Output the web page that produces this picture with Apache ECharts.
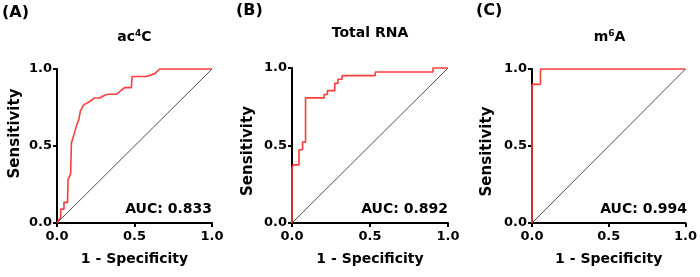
<!DOCTYPE html>
<html>
<head>
<meta charset="utf-8">
<script src="https://cdn.jsdelivr.net/npm/echarts@6/dist/echarts.min.js"></script>
<style>
  html, body { margin: 0; padding: 0; background: #fff; }
  #chart { width: 700px; height: 277px; }
</style>
</head>
<body>
<div id="chart"></div>
<script>
// ROC 曲线数据 [1 - Specificity, Sensitivity]
const rocAc4C = [
  [0, 0], [0.024, 0.037], [0.024, 0.09], [0.045, 0.09], [0.045, 0.134], [0.068, 0.134],
  [0.071, 0.28], [0.088, 0.32], [0.093, 0.52], [0.114, 0.59], [0.129, 0.642], [0.14, 0.668],
  [0.151, 0.728], [0.172, 0.767], [0.2, 0.782], [0.222, 0.797], [0.243, 0.812], [0.275, 0.812],
  [0.308, 0.83], [0.329, 0.836], [0.383, 0.836], [0.415, 0.862], [0.437, 0.879], [0.48, 0.879],
  [0.484, 0.951], [0.577, 0.951], [0.6, 0.96], [0.63, 0.97], [0.663, 1], [1, 1]
]
const rocTotalRNA = [
  [0, 0], [0, 0.355], [0.008, 0.355], [0.008, 0.375], [0.045, 0.375], [0.045, 0.473],
  [0.068, 0.473], [0.068, 0.522], [0.087, 0.522], [0.087, 0.807], [0.206, 0.807], [0.206, 0.829],
  [0.227, 0.829], [0.227, 0.854], [0.274, 0.854], [0.274, 0.901], [0.295, 0.901], [0.295, 0.927],
  [0.321, 0.927], [0.321, 0.951], [0.534, 0.951], [0.534, 0.974], [0.904, 0.974], [0.904, 1], [1, 1]
]
const rocM6A = [[0, 0], [0, 0.9], [0.055, 0.9], [0.055, 1], [1, 1]]
const diagonal = [[0, 0], [1, 1]]

const panelLabels = ['(A)', '(B)', '(C)']
const panelTitles = ['{t|ac}{s|4}{t|C}', '{t|Total RNA}', '{t|m}{s|6}{t|A}']
const aucLabels = ['AUC: 0.833', 'AUC: 0.892', 'AUC: 0.994']
const xName = '1 - Specificity'
const yName = 'Sensitivity'
const rocList = [rocAc4C, rocTotalRNA, rocM6A]

const FONT = 'DejaVu Sans'

// 每个面板的位置
const grids = [
  { left: 57, top: 69, width: 155, height: 154 },
  { left: 292, top: 68, width: 156, height: 155 },
  { left: 532, top: 69, width: 155, height: 154 }
]
const labelPos = [[2, 14], [236, 12], [476, 12]]
const titleY = [37, 33, 37]
const yNamePad = [[0, 0, 0, 25], [0, 11, 0, 0], [0, 11, 0, 0]]
const yNameGap = [34, 36, 37]

const myChart = echarts.init(document.getElementById('chart'))

const axisCommon = {
  type: 'value',
  min: 0,
  max: 1,
  interval: 0.5,
  splitLine: { show: false },
  axisLine: { show: true, lineStyle: { color: '#000', width: 2 } },
  axisTick: { show: true, length: 4, lineStyle: { color: '#000', width: 2 } },
  axisLabel: {
    color: '#000',
    fontFamily: FONT,
    fontWeight: 'bold',
    fontSize: 13,
    formatter: v => v.toFixed(1)
  },
  nameLocation: 'middle'
}

const graphic = []
grids.forEach((g, i) => {
  graphic.push({
    type: 'text',
    left: labelPos[i][0],
    top: labelPos[i][1] - 9,
    style: { text: panelLabels[i], font: `bold 16px "${FONT}"`, fill: '#000' }
  })
  graphic.push({
    type: 'text',
    x: g.left + g.width / 2,
    y: titleY[i],
    style: {
      text: panelTitles[i],
      align: 'center',
      verticalAlign: 'middle',
      rich: {
        t: { fontFamily: FONT, fontWeight: 'bold', fontSize: 14, fill: '#000' },
        s: { fontFamily: FONT, fontWeight: 'bold', fontSize: 9, fill: '#000', verticalAlign: 'top', padding: [0, 0, 6, 0] }
      }
    }
  })
  graphic.push({
    type: 'text',
    x: g.left + g.width,
    y: g.top + g.height - 14,
    style: {
      text: aucLabels[i],
      align: 'right',
      verticalAlign: 'middle',
      font: `bold 14px "${FONT}"`,
      fill: '#000'
    }
  })
})

const option = {
  animation: false,
  grid: grids,
  xAxis: grids.map((g, i) => ({
    ...axisCommon,
    gridIndex: i,
    axisLabel: { ...axisCommon.axisLabel, margin: 7 },
    name: xName,
    nameGap: 29,
    nameTextStyle: { color: '#000', fontFamily: FONT, fontWeight: 'bold', fontSize: 14 }
  })),
  yAxis: grids.map((g, i) => ({
    ...axisCommon,
    gridIndex: i,
    axisLabel: { ...axisCommon.axisLabel, margin: 5 },
    name: yName,
    nameGap: yNameGap[i],
    nameTextStyle: { color: '#000', fontFamily: FONT, fontWeight: 'bold', fontSize: 15, padding: yNamePad[i] }
  })),
  graphic: graphic,
  series: [
    ...grids.map((g, i) => ({
      type: 'line',
      xAxisIndex: i,
      yAxisIndex: i,
      data: diagonal,
      showSymbol: false,
      silent: true,
      lineStyle: { color: '#222', width: 0.8 }
    })),
    ...rocList.map((d, i) => ({
      type: 'line',
      xAxisIndex: i,
      yAxisIndex: i,
      data: d,
      showSymbol: false,
      clip: false,
      z: 5,
      lineStyle: { color: '#ff3d3d', width: 1.6 }
    }))
  ]
}

myChart.setOption(option)
</script>
</body>
</html>
